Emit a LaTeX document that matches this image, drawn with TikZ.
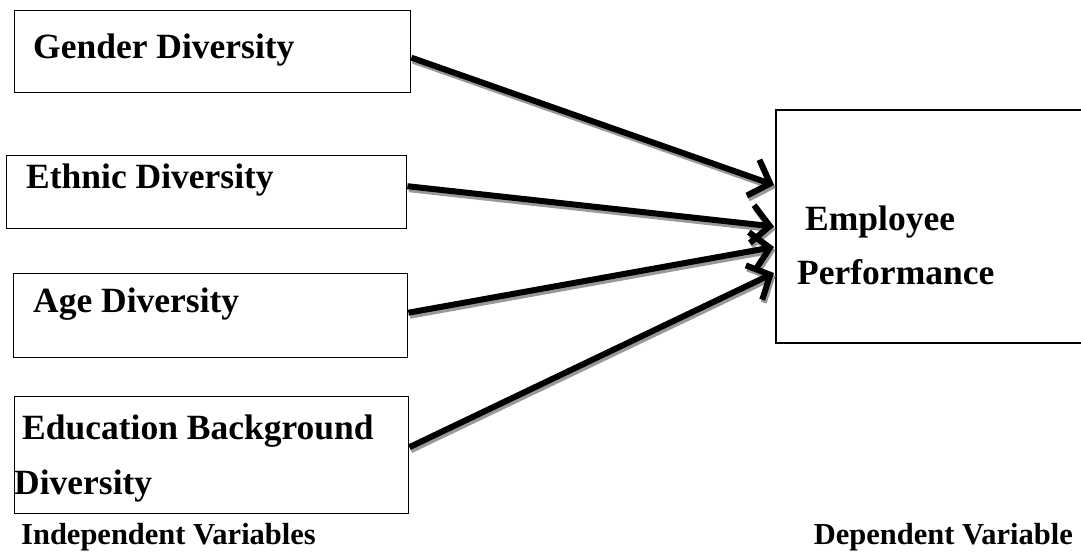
\documentclass[tikz,border=0pt]{standalone}
\usepackage{fontspec}
\setmainfont{Liberation Serif}
\usetikzlibrary{arrows.meta}
\tikzset{
  varbox/.style={draw=black,line width=1.4pt,rectangle,inner sep=0pt,anchor=north west},
  boxtext/.style={anchor=west,inner sep=0pt,font=\fontsize{35.5}{38}\selectfont\bfseries},
  labeltext/.style={inner sep=0pt,font=\fontsize{30.5}{32}\selectfont\bfseries},
  linkshadow/.style={draw=black!40,line width=6pt,-{Straight Barb[length=18pt,width=38pt,line width=6pt]}},
  link/.style={draw=black,line width=6pt,-{Straight Barb[length=18pt,width=38pt,line width=6pt]}}
}
\begin{document}
\begin{tikzpicture}[x=1pt,y=-1pt]
\useasboundingbox (0,0) rectangle (1081,556);
% boxes
\node[varbox,minimum width=396pt,minimum height=82pt] (g) at (14,10) {};
\node[varbox,minimum width=400pt,minimum height=73pt] (et) at (6,155) {};
\node[varbox,minimum width=394pt,minimum height=84pt] (ag) at (13,273) {};
\node[varbox,minimum width=394pt,minimum height=117pt] (ed) at (14,396) {};
\coordinate (empnw) at (776,110);
\coordinate (empsw) at (776,343);
\coordinate (empne) at (1090,110);
\coordinate (empse) at (1090,343);
\draw[line width=1.4pt] (empne) -- (empnw) -- (empsw) -- (empse);
\coordinate (emp) at (776,226.5);
% texts
\node[boxtext] (tg) at (33,50) {Gender Diversity};
\node[boxtext] (tet) at (26,180) {Ethnic Diversity};
\node[boxtext] (tag) at (33,304) {Age Diversity};
\node[boxtext] (ted1) at (22,431) {Education Background};
\node[boxtext] (ted2) at (14,486) {Diversity};
\node[boxtext] (temp1) at (805,222) {Employee};
\node[boxtext] (temp2) at (797,272) {Performance};
\node[labeltext,anchor=west] (lind) at (21,537) {Independent Variables};
\node[labeltext,anchor=east] (ldep) at (1073,537) {Dependent Variable};
% arrow endpoints
\coordinate (s1) at ([yshift=-6pt]g.east);
\coordinate (s2) at ([yshift=6pt]et.east);
\coordinate (s3) at ([yshift=3pt]ag.east);
\coordinate (s4) at ([yshift=8pt]ed.east);
\coordinate (e1) at ([xshift=-2pt,yshift=41.5pt]emp);
\coordinate (e2) at ([xshift=-2pt]emp);
\coordinate (e3) at ([xshift=-2pt,yshift=-20.5pt]emp);
\coordinate (e4) at ([xshift=-2pt,yshift=-46.5pt]emp);
% shadows
\foreach \a/\b in {s1/e1,s2/e2,s3/e3,s4/e4}{
  \draw[linkshadow] ([shift={(1.5pt,-3pt)}]\a) -- ([shift={(1.5pt,-3pt)}]\b);
}
\draw[link] (s1) -- (e1);
\draw[link] (s2) -- (e2);
\draw[link] (s3) -- (e3);
\draw[link] (s4) -- (e4);
\end{tikzpicture}
\end{document}
